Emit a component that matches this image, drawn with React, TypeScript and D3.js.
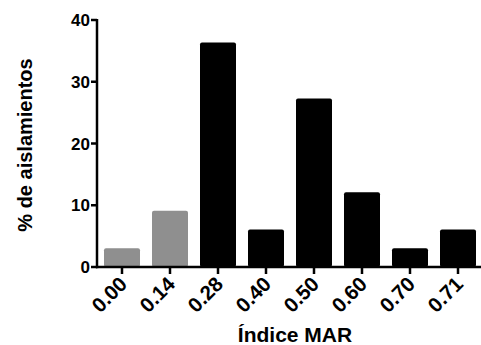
import * as d3 from "d3";

const categories = ["0.00", "0.14", "0.28", "0.40", "0.50", "0.60", "0.70", "0.71"];
const values = [3.03, 9.09, 36.36, 6.06, 27.27, 12.12, 3.03, 6.06];
const barColors = ["#8f8f8f", "#8f8f8f", "#000", "#000", "#000", "#000", "#000", "#000"];
const yTicks = [0, 10, 20, 30, 40];

export default function App() {
  const width = 481;
  const height = 345;
  const marginLeft = 98;
  const marginTop = 20;
  const baseline = 267;

  const x = d3
    .scaleBand()
    .domain(categories)
    .range([marginLeft, width + 1])
    .paddingInner(0.25)
    .paddingOuter(0.125);

  const y = d3.scaleLinear().domain([0, 40]).range([baseline, marginTop]);

  const font = "'Liberation Sans', Arial, sans-serif";

  return (
    <svg
      width={width}
      height={height}
      style={{ position: "absolute", left: 0, top: 0, background: "#fff" }}
      fontFamily={font}
      fontWeight="bold"
    >
      {/* bars */}
      {categories.map((c, i) => (
        <rect
          key={c}
          x={x(c)}
          y={y(values[i])}
          width={x.bandwidth()}
          height={baseline - y(values[i])}
          fill={barColors[i]}
          rx={2}
        />
      ))}

      {/* y axis */}
      <line x1={marginLeft - 1} x2={marginLeft - 1} y1={y(40) - 1} y2={baseline + 1.2} stroke="#000" strokeWidth={2.5} />
      {yTicks.map((t) => (
        <g key={t}>
          <line x1={marginLeft - 7} x2={marginLeft - 1} y1={y(t)} y2={y(t)} stroke="#000" strokeWidth={2.5} />
          <text x={marginLeft - 8} y={y(t)} dy="0.36em" textAnchor="end" fontSize={17}>
            {t}
          </text>
        </g>
      ))}

      {/* x axis */}
      <line x1={marginLeft - 2} x2={width} y1={baseline} y2={baseline} stroke="#000" strokeWidth={2.5} />
      {categories.map((c) => {
        const cx = x(c)! + x.bandwidth() / 2;
        return (
          <g key={c}>
            <line x1={cx} x2={cx} y1={baseline} y2={baseline + 7} stroke="#000" strokeWidth={2.5} />
            <text
              transform={`translate(${cx - 4},${baseline + 8}) rotate(-45)`}
              textAnchor="end"
              dy="0.72em"
              fontSize={20.5}
            >
              {c}
            </text>
          </g>
        );
      })}

      {/* axis titles */}
      <text x={295} y={342} textAnchor="middle" fontSize={21}>
        Índice MAR
      </text>
      <text transform="translate(32,145) rotate(-90)" textAnchor="middle" fontSize={20}>
        % de aislamientos
      </text>
    </svg>
  );
}
